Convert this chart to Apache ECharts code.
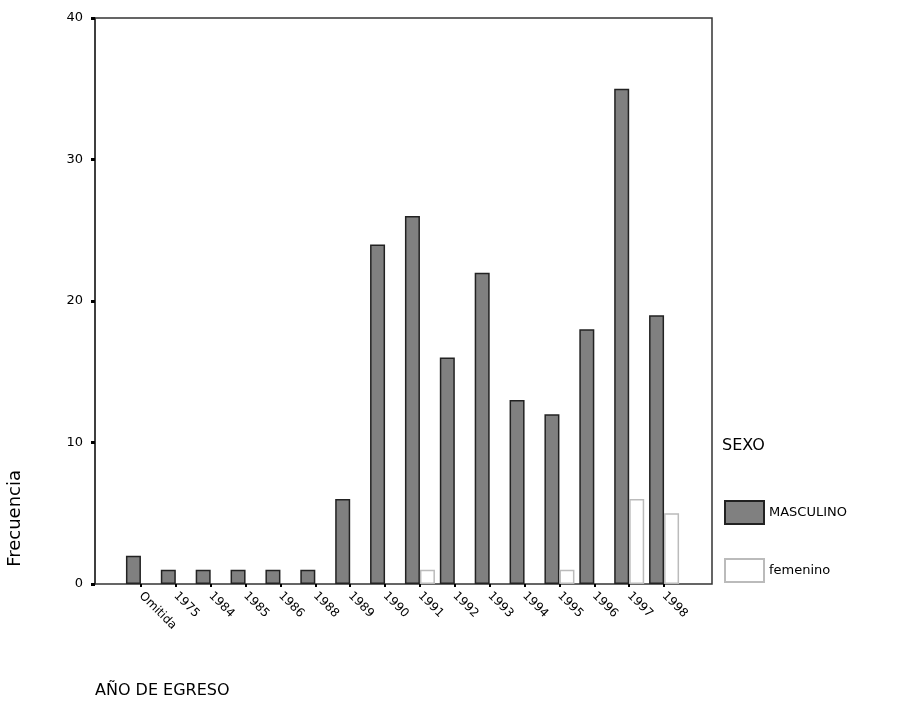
<!DOCTYPE html>
<html><head><meta charset="utf-8">
<script src="https://cdn.jsdelivr.net/npm/echarts@6/dist/echarts.min.js"></script>
<style>html,body{margin:0;padding:0;background:#fff}#c{width:898px;height:711px}</style>
</head><body><div id="c"></div>
<script>
const categories = ["Omitida","1975","1984","1985","1986","1988","1989","1990","1991","1992","1993","1994","1995","1996","1997","1998"];
const masculino = [2,1,1,1,1,1,6,24,26,16,22,13,12,18,35,19];
const femenino = [0,0,0,0,0,0,0,0,1,0,0,0,1,0,6,5];
const yTicks = [0,10,20,30,40];

const chart = echarts.init(document.getElementById('c'), null, {renderer:'canvas'});
const font = 'DejaVu Sans, Liberation Sans, sans-serif';
chart.setOption({
  animation:false,
  backgroundColor:'#fff',
  grid:[
    {left:95, right:186, top:18, bottom:127, show:true, borderColor:'#333', borderWidth:1.5, backgroundColor:'transparent'},
    {left:123.5, width:558, top:18, bottom:127}
  ],
  xAxis:[
    {gridIndex:0, type:'category', data:[''], show:false},
    {gridIndex:1, type:'category', data:categories,
     axisLine:{show:false},
     axisTick:{show:true, alignWithLabel:true, length:3, lineStyle:{color:'#000', width:2}},
     axisLabel:{rotate:-45, interval:0, fontFamily:font, fontSize:12, color:'#000', margin:10}}
  ],
  yAxis:[
    {gridIndex:0, type:'value', min:yTicks[0], max:yTicks[yTicks.length-1], interval:10,
     splitLine:{show:false},
     axisLine:{show:true, lineStyle:{color:'#333', width:1.5}},
     axisTick:{show:true, length:4, lineStyle:{color:'#000', width:3}},
     axisLabel:{fontFamily:font, fontSize:13, color:'#000', margin:12}},
    {gridIndex:1, type:'value', min:0, max:40, show:false}
  ],
  legend:{
    orient:'vertical', left:719, top:495, itemWidth:39, itemGap:33, itemHeight:23, icon:'rect',
    textStyle:{fontFamily:font, fontSize:13, color:'#000'},
    data:['MASCULINO','femenino']
  },
  graphic:[
    {type:'text', left:722, top:438, style:{text:'SEXO', font:'16px '+font, fill:'#000'}},
    {type:'text', left:6, top:470, rotation:Math.PI/2, style:{text:'Frecuencia', font:'18px '+font, fill:'#000'}},
    {type:'text', left:95, top:683, style:{text:'AÑO DE EGRESO', font:'16px '+font, fill:'#000'}}
  ],
  series:[
    {name:'MASCULINO', type:'bar', xAxisIndex:1, yAxisIndex:1, data:masculino, barWidth:15, barGap:'0%',
     itemStyle:{color:'#808080', borderColor:'#222', borderWidth:1.5}},
    {name:'femenino', type:'bar', xAxisIndex:1, yAxisIndex:1, data:femenino.map(v=>v===0?'-':v), barWidth:15,
     itemStyle:{color:'#fff', borderColor:'#bbb', borderWidth:1.5}}
  ]
});
</script></body></html>
